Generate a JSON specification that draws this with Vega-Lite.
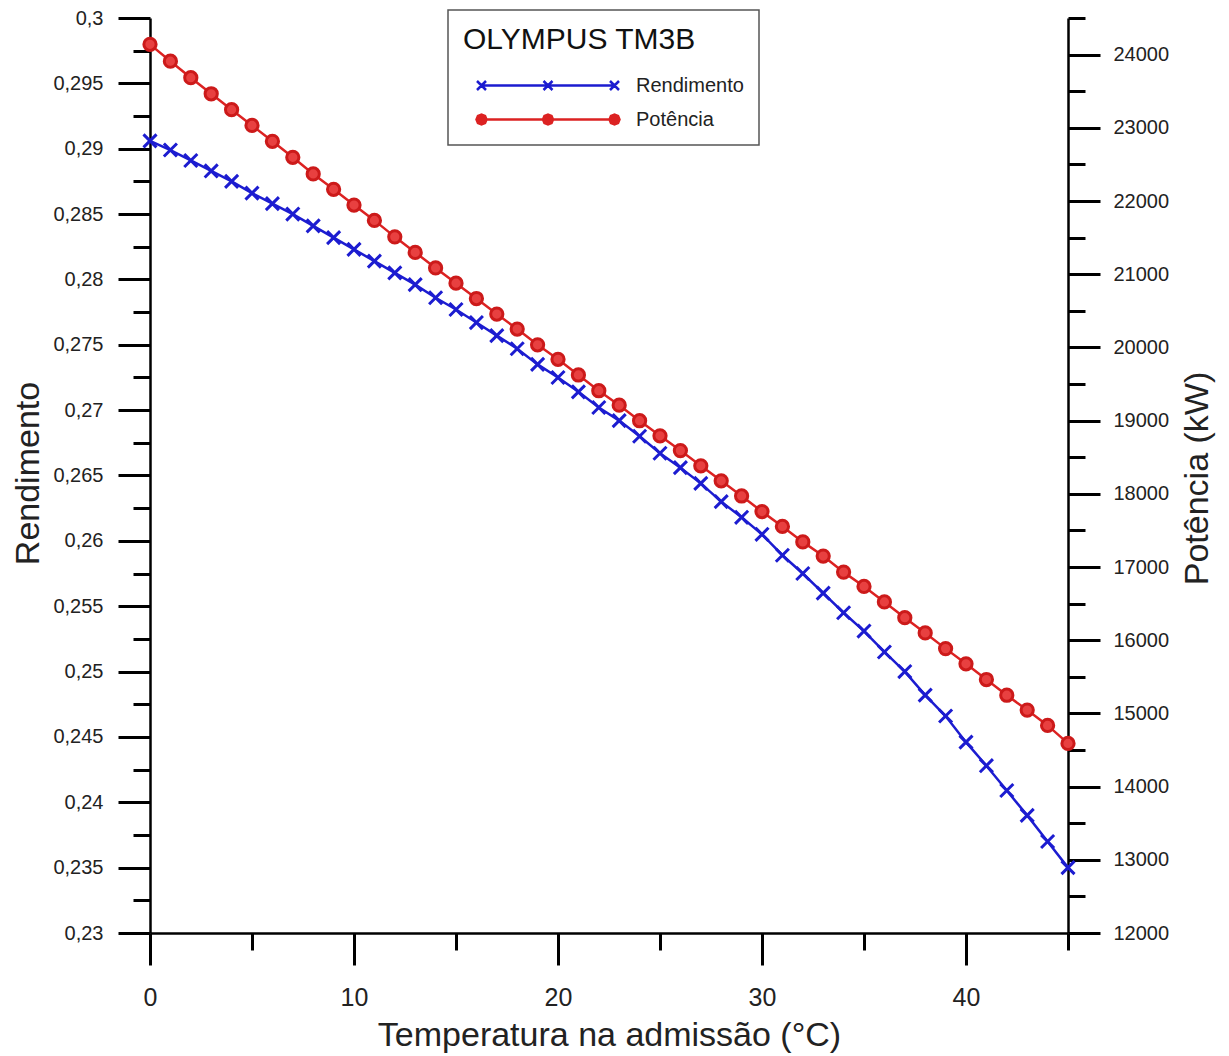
{
  "$schema": "https://vega.github.io/schema/vega-lite/v6.json",
  "width": 918,
  "height": 915,
  "autosize": {"type": "none"},
  "padding": {"left": 150, "top": 18, "right": 161, "bottom": 123},
  "background": "white",
  "config": {
    "view": {"stroke": null},
    "font": "Liberation Sans",
    "axis": {
      "domainColor": "black",
      "domainWidth": 2.5,
      "tickColor": "black",
      "tickWidth": 3,
      "grid": false,
      "labelFont": "Liberation Sans",
      "titleFont": "Liberation Sans",
      "labelColor": "#222",
      "titleColor": "#222",
      "titleFontWeight": "normal",
      "titleFontSize": 34,
      "labelOverlap": false,
      "labelFlush": false,
      "labelBound": false
    }
  },
  "data": {
    "values": [
      {"t": 0, "rend": 0.2906, "pot": 24140},
      {"t": 1, "rend": 0.2899, "pot": 23910},
      {"t": 2, "rend": 0.2891, "pot": 23685},
      {"t": 3, "rend": 0.2883, "pot": 23465},
      {"t": 4, "rend": 0.2875, "pot": 23248},
      {"t": 5, "rend": 0.2866, "pot": 23032},
      {"t": 6, "rend": 0.2858, "pot": 22815},
      {"t": 7, "rend": 0.2850, "pot": 22597},
      {"t": 8, "rend": 0.2841, "pot": 22370},
      {"t": 9, "rend": 0.2832, "pot": 22160},
      {"t": 10, "rend": 0.2823, "pot": 21945},
      {"t": 11, "rend": 0.2814, "pot": 21735},
      {"t": 12, "rend": 0.2805, "pot": 21510},
      {"t": 13, "rend": 0.2796, "pot": 21298},
      {"t": 14, "rend": 0.2786, "pot": 21085},
      {"t": 15, "rend": 0.2777, "pot": 20877},
      {"t": 16, "rend": 0.2767, "pot": 20668},
      {"t": 17, "rend": 0.2757, "pot": 20455},
      {"t": 18, "rend": 0.2747, "pot": 20250},
      {"t": 19, "rend": 0.2735, "pot": 20035},
      {"t": 20, "rend": 0.2725, "pot": 19837},
      {"t": 21, "rend": 0.2714, "pot": 19623},
      {"t": 22, "rend": 0.2702, "pot": 19408},
      {"t": 23, "rend": 0.2692, "pot": 19210},
      {"t": 24, "rend": 0.2680, "pot": 18998},
      {"t": 25, "rend": 0.2667, "pot": 18792},
      {"t": 26, "rend": 0.2656, "pot": 18590},
      {"t": 27, "rend": 0.2644, "pot": 18382},
      {"t": 28, "rend": 0.2630, "pot": 18177},
      {"t": 29, "rend": 0.2618, "pot": 17970},
      {"t": 30, "rend": 0.2605, "pot": 17757},
      {"t": 31, "rend": 0.2589, "pot": 17554},
      {"t": 32, "rend": 0.2575, "pot": 17343},
      {"t": 33, "rend": 0.2560, "pot": 17150},
      {"t": 34, "rend": 0.2545, "pot": 16930},
      {"t": 35, "rend": 0.2531, "pot": 16735},
      {"t": 36, "rend": 0.2515, "pot": 16523},
      {"t": 37, "rend": 0.2500, "pot": 16308},
      {"t": 38, "rend": 0.2482, "pot": 16100},
      {"t": 39, "rend": 0.2466, "pot": 15885},
      {"t": 40, "rend": 0.2446, "pot": 15677},
      {"t": 41, "rend": 0.2428, "pot": 15463},
      {"t": 42, "rend": 0.2409, "pot": 15248},
      {"t": 43, "rend": 0.2390, "pot": 15045},
      {"t": 44, "rend": 0.2370, "pot": 14836},
      {"t": 45, "rend": 0.2350, "pot": 14590}
    ]
  },
  "encoding": {
    "x": {
      "field": "t",
      "type": "quantitative",
      "scale": {"domain": [0, 45], "nice": false, "zero": false},
      "axis": {
        "title": "Temperatura na admissão (°C)",
        "values": [0, 5, 10, 15, 20, 25, 30, 35, 40, 45],
        "labelExpr": "datum.value % 10 == 0 ? datum.label : ''",
        "labelFontSize": 25,
        "labelPadding": 20,
        "tickSize": {"condition": {"test": "datum.value % 10 == 0", "value": 32}, "value": 17},
        "titleY": 112,
        "titleBaseline": "alphabetic"
      }
    }
  },
  "layer": [
    {
      "encoding": {
        "y": {
          "field": "rend",
          "type": "quantitative",
          "scale": {"domain": [0.23, 0.3], "nice": false, "zero": false},
          "axis": {
            "orient": "left",
            "title": "Rendimento",
            "values": [0.23, 0.2325, 0.235, 0.2375, 0.24, 0.2425, 0.245, 0.2475, 0.25, 0.2525, 0.255, 0.2575, 0.26, 0.2625, 0.265, 0.2675, 0.27, 0.2725, 0.275, 0.2775, 0.28, 0.2825, 0.285, 0.2875, 0.29, 0.2925, 0.295, 0.2975, 0.3],
            "labelExpr": "round(datum.value * 2000) % 10 == 0 ? replace(format(datum.value, '.3~f'), '.', ',') : ''",
            "labelFontSize": 20,
            "labelPadding": 15,
            "tickSize": {"condition": {"test": "round(datum.value * 2000) % 10 == 0", "value": 32}, "value": 17},
            "titleAngle": 270,
            "titleX": -112,
            "titleY": 455,
            "titleAlign": "center",
            "titleBaseline": "alphabetic"
          }
        },
        "color": {
          "datum": "Rendimento",
          "type": "nominal",
          "scale": {"domain": ["Rendimento", "Potência"], "range": ["#1c1cd0", "#dc2222"]},
          "legend": {
            "orient": "none",
            "legendX": 298,
            "legendY": -8,
            "title": "OLYMPUS TM3B",
            "titleFontSize": 30,
            "titleFontWeight": "normal",
            "titleColor": "#111",
            "titleFont": "Liberation Sans",
            "titleLimit": 500,
            "titlePadding": 19,
            "labelFont": "Liberation Sans",
            "labelFontSize": 20,
            "labelColor": "#222",
            "labelOffset": 133,
            "labelLimit": 300,
            "symbolSize": 400,
            "symbolOffset": 17,
            "rowPadding": 12,
            "padding": 15,
            "fillColor": "white",
            "strokeColor": "#555",
            "encode": {
              "symbols": {
                "update": {
                  "shape": {"signal": "datum.value === 'Rendimento' ? 'M-1,0H12.3M-1.45,-0.45L-0.55,0.45M-1.45,0.45L-0.55,-0.45M5.2,-0.45L6.1,0.45M5.2,0.45L6.1,-0.45M11.85,-0.45L12.75,0.45M11.85,0.45L12.75,-0.45' : 'M-1,0H12.3M-0.5,0L-0.646,0.354L-1,0.5L-1.354,0.354L-1.5,0L-1.354,-0.354L-1,-0.5L-0.646,-0.354ZM6.15,0L6.004,0.354L5.65,0.5L5.296,0.354L5.15,0L5.296,-0.354L5.65,-0.5L6.004,-0.354ZM12.8,0L12.654,0.354L12.3,0.5L11.946,0.354L11.8,0L11.946,-0.354L12.3,-0.5L12.654,-0.354Z'"},
                  "stroke": {"signal": "datum.value === 'Rendimento' ? '#1c1cd0' : '#dc2222'"},
                  "fill": {"signal": "datum.value === 'Rendimento' ? 'transparent' : '#e03030'"},
                  "strokeWidth": {"value": 2.5},
                  "opacity": {"value": 1}
                }
              },
              "legend": {
                "update": {
                  "stroke": {"value": "#555"},
                  "strokeWidth": {"value": 1.5},
                  "fill": {"value": "white"}
                }
              }
            }
          }
        }
      },
      "layer": [
        {"mark": {"type": "line", "strokeWidth": 2.5}},
        {"mark": {"type": "point", "shape": "M-1,-1L1,1M-1,1L1,-1", "filled": false, "size": 170, "strokeWidth": 3, "opacity": 1}}
      ]
    },
    {
      "encoding": {
        "y": {
          "field": "pot",
          "type": "quantitative",
          "scale": {"domain": [12000, 24500], "nice": false, "zero": false},
          "axis": {
            "orient": "right",
            "title": "Potência (kW)",
            "values": [12000, 12500, 13000, 13500, 14000, 14500, 15000, 15500, 16000, 16500, 17000, 17500, 18000, 18500, 19000, 19500, 20000, 20500, 21000, 21500, 22000, 22500, 23000, 23500, 24000, 24500],
            "labelExpr": "datum.value % 1000 == 0 ? format(datum.value, 'd') : ''",
            "labelFontSize": 20,
            "labelPadding": 13,
            "tickSize": {"condition": {"test": "datum.value % 1000 == 0", "value": 32}, "value": 17},
            "titleAngle": 270,
            "titleX": 139,
            "titleY": 460,
            "titleAlign": "center",
            "titleBaseline": "alphabetic"
          }
        },
        "color": {"datum": "Potência", "type": "nominal"}
      },
      "layer": [
        {"mark": {"type": "line", "strokeWidth": 2.5}},
        {"mark": {"type": "point", "shape": "circle", "filled": true, "size": 150, "fill": "#e84040", "stroke": "#cc1a1a", "strokeWidth": 3, "opacity": 1}}
      ]
    }
  ],
  "resolve": {"scale": {"y": "independent"}}
}
